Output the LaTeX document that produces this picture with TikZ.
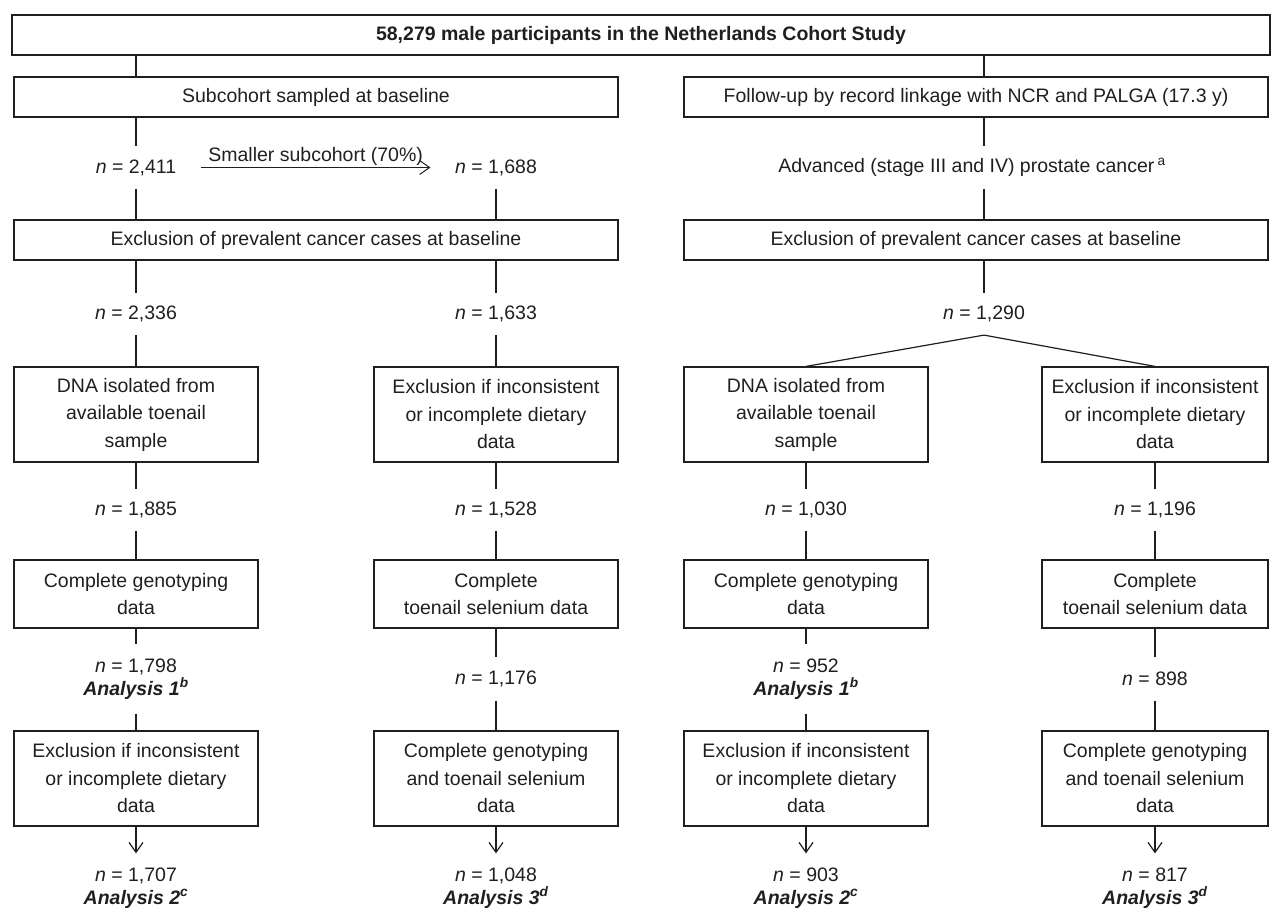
\documentclass[tikz,border=0pt]{standalone}
\usepackage{fontspec}
\setmainfont{Liberation Sans}
\usetikzlibrary{arrows.meta}
\newcommand{\nn}[1]{\textit{n} = #1}
\newcommand{\analysis}[2]{\textbf{\textit{Analysis #1}}\textsuperscript{\textbf{\textit{#2}}}}
\begin{document}
\begin{tikzpicture}[x=1pt,y=-1pt,line width=1.2pt,color=black!88,
  every node/.style={font=\fontsize{19.5}{27.5}\selectfont,inner sep=0pt},
  box/.style={draw,align=center,minimum height=40},
  tallbox/.style={box,minimum width=244,minimum height=95},
  flatbox/.style={box,minimum width=244,minimum height=68},
  count/.style={minimum height=41},
  result/.style={align=center,minimum height=68,font=\fontsize{19.5}{22.5}\selectfont},
  barb/.style={-{Straight Barb[length=10pt,width=14pt]}}]
\useasboundingbox (0,0) rectangle (1272,911);
\coordinate (trunk) at (984,0);
% cohort, subcohort and case arms
\node[box,minimum width=1258,font=\fontsize{19.5}{27.5}\selectfont\bfseries] (nlcs) at (641,35) {58,279 male participants in the Netherlands Cohort Study};
\node[box,minimum width=604] (sub) at (316,97) {Subcohort sampled at baseline};
\node[box,minimum width=584] (follow) at (976,97) {Follow-up by record linkage with NCR and PALGA (17.3 y)};
\node[count] (n2411) at (136,167.5) {\nn{2,411}};
\node[count] (n1688) at (496,167.5) {\nn{1,688}};
\node[count] (adv) at (972,167.5) {Advanced (stage III and IV) prostate cancer\,\textsuperscript{a}};
\node[box,minimum width=604] (exclL) at (316,240) {Exclusion of prevalent cancer cases at baseline};
\node[box,minimum width=584] (exclR) at (976,240) {Exclusion of prevalent cancer cases at baseline};
\node[count] (n2336) at (136,314) {\nn{2,336}};
\node[count] (n1633) at (496,314) {\nn{1,633}};
\node[count] (n1290) at (984,314) {\nn{1,290}};
% first row of boxes
\node[tallbox] (dnaA) at (136,414.5) {DNA isolated from\\available toenail\\sample};
\node[tallbox] (dietB) at (496,414.5) {Exclusion if inconsistent\\or incomplete dietary\\data};
\node[tallbox] (dnaC) at (806,414.5) {DNA isolated from\\available toenail\\sample};
\node[tallbox,minimum width=226] (dietD) at (1155,414.5) {Exclusion if inconsistent\\or incomplete dietary\\data};
\node[count] (n1885) at (136,510) {\nn{1,885}};
\node[count] (n1528) at (496,510) {\nn{1,528}};
\node[count] (n1030) at (806,510) {\nn{1,030}};
\node[count] (n1196) at (1155,510) {\nn{1,196}};
% second row of boxes
\node[flatbox] (genoA) at (136,594) {Complete genotyping\\data};
\node[flatbox] (selenB) at (496,594) {Complete\\toenail selenium data};
\node[flatbox] (genoC) at (806,594) {Complete genotyping\\data};
\node[flatbox,minimum width=226] (selenD) at (1155,594) {Complete\\toenail selenium data};
\node[result] (res1A) at (136,679) {\nn{1,798}\\\analysis{1}{b}};
\node[count,minimum height=42] (n1176) at (496,679) {\nn{1,176}};
\node[result] (res1C) at (806,679) {\nn{952}\\\analysis{1}{b}};
\node[count,minimum height=42] (n898) at (1155,679) {\nn{898}};
% third row of boxes
\node[tallbox] (dietA) at (136,778.5) {Exclusion if inconsistent\\or incomplete dietary\\data};
\node[tallbox] (bothB) at (496,778.5) {Complete genotyping\\and toenail selenium\\data};
\node[tallbox] (dietC) at (806,778.5) {Exclusion if inconsistent\\or incomplete dietary\\data};
\node[tallbox,minimum width=226] (bothD) at (1155,778.5) {Complete genotyping\\and toenail selenium\\data};
\node[result] (fin2A) at (136,888) {\nn{1,707}\\\analysis{2}{c}};
\node[result] (fin3B) at (496,888) {\nn{1,048}\\\analysis{3}{d}};
\node[result] (fin2C) at (806,888) {\nn{903}\\\analysis{2}{c}};
\node[result] (fin3D) at (1155,888) {\nn{817}\\\analysis{3}{d}};
% connectors
\draw (nlcs.south -| n2411) -- (sub.north -| n2411);
\draw (nlcs.south -| trunk) -- (follow.north -| trunk);
\draw (sub.south -| n2411) -- (n2411.north);
\draw (follow.south -| trunk) -- (adv.north -| trunk);
\draw[barb,line width=1pt,shorten <=24pt,shorten >=24pt] (n2411) -- node[above=1pt] {Smaller subcohort (70\%)} (n1688);
\draw (n2411.south) -- (exclL.north -| n2411);
\draw (n1688.south) -- (exclL.north -| n1688);
\draw (adv.south -| trunk) -- (exclR.north -| trunk);
\draw (exclL.south -| n2336) -- (n2336.north);
\draw (exclL.south -| n1633) -- (n1633.north);
\draw (exclR.south -| trunk) -- (n1290.north);
\draw (n2336.south) -- (dnaA.north);
\draw (n1633.south) -- (dietB.north);
\draw (n1290.south) -- (dnaC.north);
\draw (n1290.south) -- (dietD.north);
\foreach \a/\b/\c in {dnaA/n1885/genoA,dietB/n1528/selenB,dnaC/n1030/genoC,dietD/n1196/selenD}
  \draw (\a.south) -- (\b.north) (\b.south) -- (\c.north);
\foreach \a/\b/\c/\d in {genoA/res1A/dietA/fin2A,selenB/n1176/bothB/fin3B,genoC/res1C/dietC/fin2C,selenD/n898/bothD/fin3D}
  {\draw (\a.south) -- (\b.north) (\b.south) -- (\c.north);
   \draw[barb] (\c.south) -- (\d.north);}
\end{tikzpicture}
\end{document}
